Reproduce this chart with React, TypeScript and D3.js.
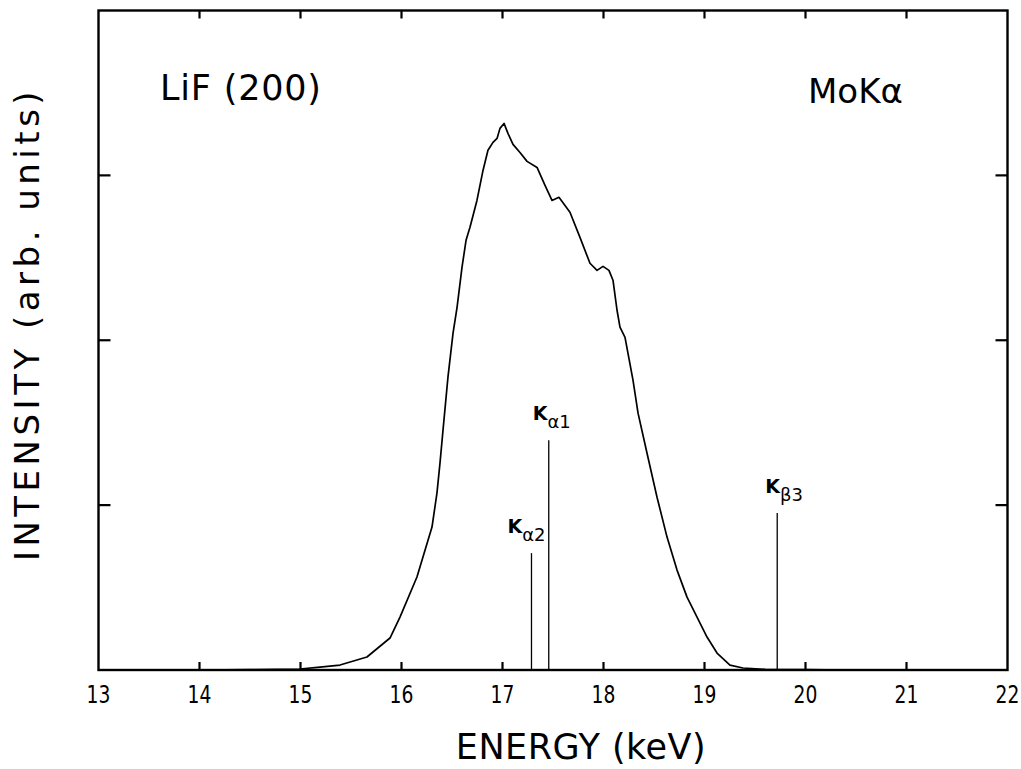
import React from "react";
import * as d3 from "d3";

// Measured LiF (200) spectrum of the Mo tube: energy (keV) vs intensity (arb. units)
const energy = [
  13.0, 14.0, 14.5, 14.995, 15.193, 15.391, 15.658, 15.886, 15.985, 16.153, 16.302,
  16.351, 16.381, 16.411, 16.46, 16.51, 16.55, 16.599, 16.639, 16.678, 16.747,
  16.807, 16.856, 16.906, 16.946, 16.975, 17.015, 17.054, 17.104, 17.173, 17.243,
  17.342, 17.421, 17.49, 17.559, 17.668, 17.767, 17.866, 17.936, 17.995, 18.054,
  18.094, 18.134, 18.163, 18.213, 18.292, 18.342, 18.431, 18.53, 18.629, 18.728,
  18.827, 18.926, 19.025, 19.124, 19.252, 19.381, 19.6, 20.0, 20.4, 22.0,
];
const intensity = [
  0, 0, 0.002, 0.006, 0.018, 0.03, 0.079, 0.194, 0.321, 0.564, 0.867,
  1.073, 1.255, 1.455, 1.776, 2.042, 2.2, 2.442, 2.606, 2.685, 2.848,
  3.03, 3.152, 3.2, 3.224, 3.285, 3.315, 3.255, 3.188, 3.139, 3.085,
  3.048, 2.939, 2.848, 2.867, 2.776, 2.624, 2.467, 2.424, 2.448, 2.424,
  2.364, 2.182, 2.079, 2.018, 1.758, 1.558, 1.315, 1.048, 0.806, 0.606,
  0.442, 0.321, 0.2, 0.103, 0.03, 0.012, 0.004, 0.002, 0.0, 0,
];

// Characteristic lines
const lineEnergy = [17.287, 17.458, 19.72];
const lineIntensity = [0.709, 1.394, 0.952];
const lineSub = ["\u03b12", "\u03b11", "\u03b23"];

const xTicks = [13, 14, 15, 16, 17, 18, 19, 20, 21, 22];
const yTicks = [1, 2, 3];

const W = 1021;
const H = 769;
const left = 98.5;
const right = 1007.5;
const top = 10.5;
const bottom = 670;

export default function App() {
  const x = d3.scaleLinear().domain([13, 22]).range([left, right]);
  const y = d3.scaleLinear().domain([0, 4]).range([bottom, top]);

  const pts: [number, number][] = energy.map((e, i) => [e, intensity[i]]);
  const path = d3
    .line<[number, number]>()
    .x((d) => x(d[0]))
    .y((d) => y(d[1]))
    .curve(d3.curveLinear)(pts) as string;

  const font = "'DejaVu Sans', sans-serif";
  // label offsets relative to each line's top
  const labelDx = [-24, -16, -12];

  return (
    <svg
      width={W}
      height={H}
      style={{ position: "absolute", left: 0, top: 0, background: "#fff" }}
      fontFamily={font}
    >
      <rect x={0} y={0} width={W} height={H} fill="#fff" />

      {/* ticks, inward on all four sides */}
      {xTicks.slice(1, -1).map((t) => (
        <g key={"xt" + t} stroke="#000" strokeWidth={2.2}>
          <line x1={x(t)} x2={x(t)} y1={bottom} y2={bottom - 8} />
          <line x1={x(t)} x2={x(t)} y1={top} y2={top + 8} />
        </g>
      ))}
      {yTicks.map((t) => (
        <g key={"yt" + t} stroke="#000" strokeWidth={2.2}>
          <line x1={left} x2={left + 12} y1={y(t)} y2={y(t)} />
          <line x1={right} x2={right - 12} y1={y(t)} y2={y(t)} />
        </g>
      ))}

      {/* spectrum */}
      <path d={path} fill="none" stroke="#000" strokeWidth={1.7} strokeLinejoin="round" />

      {/* characteristic lines */}
      {lineEnergy.map((e, i) => (
        <g key={"ln" + i}>
          <line
            x1={x(e)}
            x2={x(e)}
            y1={y(0)}
            y2={y(lineIntensity[i])}
            stroke="#000"
            strokeWidth={1.3}
          />
          <text x={x(e) + labelDx[i]} y={y(lineIntensity[i]) - 20} fill="#000">
            <tspan fontSize={19} fontWeight="bold">K</tspan>
            <tspan fontSize={18} dy={8} dx={0}>{lineSub[i]}</tspan>
          </text>
        </g>
      ))}

      {/* frame */}
      <rect
        x={left}
        y={top}
        width={right - left}
        height={bottom - top}
        fill="none"
        stroke="#000"
        strokeWidth={2.4}
      />

      {/* tick labels */}
      {xTicks.map((t) => (
        <text
          key={"xl" + t}
          transform={`translate(${x(t)},${703}) scale(0.78,1)`}
          textAnchor="middle"
          fontSize={24}
          fill="#000"
        >
          {t}
        </text>
      ))}

      {/* annotations */}
      <text x={160} y={100} fontSize={35} fill="#000" letterSpacing={0.8}>LiF (200)</text>
      <text x={808} y={103} fontSize={34} fill="#000">MoK{"\u03b1"}</text>

      {/* axis titles */}
      <text x={581} y={759} textAnchor="middle" fontSize={35} fill="#000" letterSpacing={0.5}>
        ENERGY (keV)
      </text>
      <text
        transform={`translate(39,${324}) rotate(-90)`}
        textAnchor="middle"
        fontSize={34}
        fill="#000"
        letterSpacing={4.5}
      >
        INTENSITY (arb. units)
      </text>
    </svg>
  );
}
